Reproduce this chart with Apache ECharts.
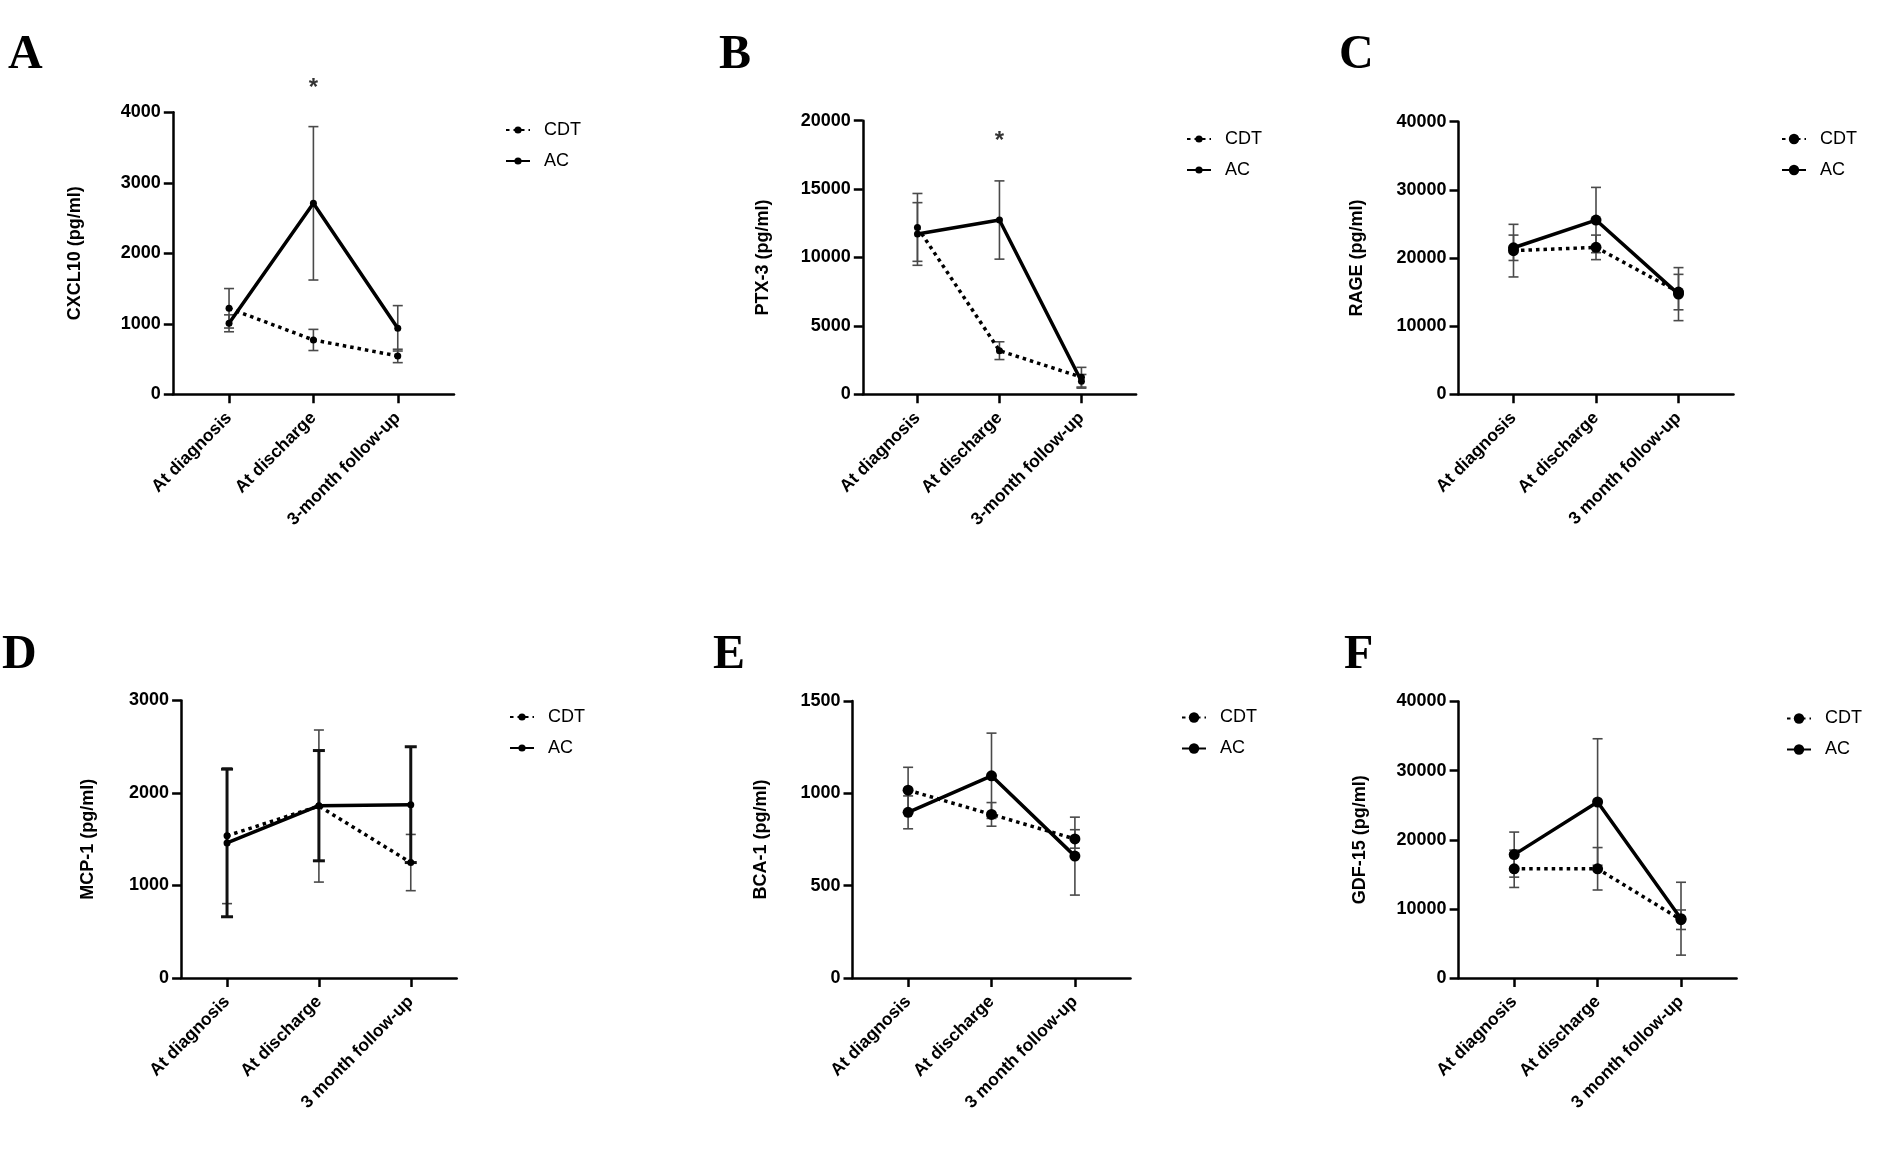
<!DOCTYPE html>
<html>
<head>
<meta charset="utf-8">
<title>Biomarkers CDT vs AC</title>
<script src="https://cdn.jsdelivr.net/npm/echarts@6/dist/echarts.min.js"></script>
<style>
  html, body { margin: 0; padding: 0; background: #fff; }
  #chart { width: 1903px; height: 1156px; }
</style>
</head>
<body>
<div id="chart"></div>
<script>
// ---------------- DATA ----------------
const panelLetters = ['A', 'B', 'C', 'D', 'E', 'F'];
const yTitles = ['CXCL10 (pg/ml)', 'PTX-3 (pg/ml)', 'RAGE (pg/ml)', 'MCP-1 (pg/ml)', 'BCA-1 (pg/ml)', 'GDF-15 (pg/ml)'];
const catsHyphen = ['At diagnosis', 'At discharge', '3-month follow-up'];
const catsSpace = ['At diagnosis', 'At discharge', '3 month follow-up'];
const seriesNames = ['CDT', 'AC'];

// y axis ticks (max, step) per panel
const yMax = [4000, 20000, 40000, 3000, 1500, 40000];
const yStep = [1000, 5000, 10000, 1000, 500, 10000];

// A: CXCL10
const cxcl10CDT = [1220, 771, 544];
const cxcl10CDTsem = [280, 150, 95];
const cxcl10AC = [1007, 2709, 936];
const cxcl10ACsem = [120, 1088, 322];
// B: PTX-3
const ptx3CDT = [12200, 3190, 1250];
const ptx3CDTsem = [2480, 650, 720];
const ptx3AC = [11720, 12740, 950];
const ptx3ACsem = [2290, 2860, 500];
// C: RAGE
const rageCDT = [21080, 21560, 15000];
const rageCDTsem = [3860, 1800, 2600];
const rageAC = [21500, 25570, 14700];
const rageACsem = [1860, 4790, 3890];
// D: MCP-1
const mcp1CDT = [1537, 1859, 1248];
const mcp1CDTsem = [733, 822, 304];
const mcp1AC = [1460, 1863, 1874];
const mcp1ACsem = [798, 596, 626];
// E: BCA-1
const bca1CDT = [1017, 886, 753];
const bca1CDTsem = [124, 64, 50];
const bca1AC = [897, 1095, 660];
const bca1ACsem = [89, 231, 211];
// F: GDF-15
const gdf15CDT = [15800, 15800, 8430];
const gdf15CDTsem = [2700, 3070, 1410];
const gdf15AC = [17850, 25460, 8580];
const gdf15ACsem = [3260, 9150, 5270];

// significance stars: [category index, y value]
const starA = [1, 4345];
const starB = [1, 18500];

// ---------------- LAYOUT / STYLE ----------------
const panels = [
  { cats: catsHyphen, cdt: cxcl10CDT, cdtE: cxcl10CDTsem, ac: cxcl10AC, acE: cxcl10ACsem, star: starA,
    g: { left: 172.8, top: 112.3, width: 281.2, height: 282 }, xr: [-2/3, 8/3], nameGap: 89,
    lg: { left: 505, top: 121 }, big: false, thickAC: false },
  { cats: catsHyphen, cdt: ptx3CDT, cdtE: ptx3CDTsem, ac: ptx3AC, acE: ptx3ACsem, star: starB,
    g: { left: 862.8, top: 120.7, width: 273.3, height: 273.6 }, xr: [-2/3, 8/3], nameGap: 91,
    lg: { left: 1186, top: 130 }, big: false, thickAC: false },
  { cats: catsSpace, cdt: rageCDT, cdtE: rageCDTsem, ac: rageAC, acE: rageACsem, star: null,
    g: { left: 1458.5, top: 121.7, width: 275, height: 272.6 }, xr: [-2/3, 8/3], nameGap: 92,
    lg: { left: 1781, top: 130 }, big: true, thickAC: false },
  { cats: catsSpace, cdt: mcp1CDT, cdtE: mcp1CDTsem, ac: mcp1AC, acE: mcp1ACsem, star: null,
    g: { left: 181.1, top: 700.5, width: 275.6, height: 277.5 }, xr: [-0.5, 2.5], nameGap: 84,
    lg: { left: 509, top: 708 }, big: false, thickAC: true },
  { cats: catsSpace, cdt: bca1CDT, cdtE: bca1CDTsem, ac: bca1AC, acE: bca1ACsem, star: null,
    g: { left: 852.5, top: 701, width: 278, height: 277 }, xr: [-2/3, 8/3], nameGap: 82,
    lg: { left: 1181, top: 708.5 }, big: true, thickAC: false },
  { cats: catsSpace, cdt: gdf15CDT, cdtE: gdf15CDTsem, ac: gdf15AC, acE: gdf15ACsem, star: null,
    g: { left: 1458.6, top: 701.5, width: 278, height: 276.5 }, xr: [-2/3, 8/3], nameGap: 90,
    lg: { left: 1786, top: 709.5 }, big: true, thickAC: false }
];
const letterPos = [[8, 56], [719, 56], [1339, 56], [2, 656], [713, 656], [1344, 656]];

const SANS = '"Liberation Sans", Arial, Helvetica, sans-serif';
const SERIF = '"Liberation Serif", "Times New Roman", serif';

function errRender(color, lw, cap) {
  return function (params, api) {
    const x = api.value(0), y = api.value(1), e = api.value(2);
    const hi = api.coord([x, y + e]);
    const lo = api.coord([x, y - e]);
    const st = { stroke: color, lineWidth: lw, fill: null };
    return {
      type: 'group',
      children: [
        { type: 'line', shape: { x1: hi[0], y1: hi[1], x2: lo[0], y2: lo[1] }, style: st },
        { type: 'line', shape: { x1: hi[0] - cap, y1: hi[1], x2: hi[0] + cap, y2: hi[1] }, style: st },
        { type: 'line', shape: { x1: lo[0] - cap, y1: lo[1], x2: lo[0] + cap, y2: lo[1] }, style: st }
      ]
    };
  };
}

const option = {
  animation: false,
  backgroundColor: '#ffffff',
  grid: [], xAxis: [], yAxis: [], series: [], legend: [], graphic: []
};

panels.forEach((p, i) => {
  option.grid.push(Object.assign({ containLabel: false }, p.g));
  option.xAxis.push({
    type: 'value', gridIndex: i, min: p.xr[0], max: p.xr[1],
    axisLine: { show: true, onZero: false, lineStyle: { color: '#000', width: 2.5 } },
    axisTick: { show: true, customValues: [0, 1, 2], length: 9, lineStyle: { color: '#000', width: 2.5 } },
    axisLabel: {
      customValues: [0, 1, 2], rotate: 45, margin: 21,
      formatter: (v) => p.cats[Math.round(v)],
      fontFamily: SANS, fontWeight: 'bold', fontSize: 17.5, color: '#000'
    },
    splitLine: { show: false }
  });
  option.yAxis.push({
    type: 'value', gridIndex: i, min: 0, max: yMax[i], interval: yStep[i],
    name: yTitles[i], nameLocation: 'middle', nameRotate: 90, nameGap: p.nameGap,
    nameTextStyle: { fontFamily: SANS, fontWeight: 'bold', fontSize: 18, color: '#000' },
    axisLine: { show: true, onZero: false, lineStyle: { color: '#000', width: 2.5 } },
    axisTick: { show: true, length: 9, lineStyle: { color: '#000', width: 2.5 } },
    axisLabel: { margin: 12, formatter: (v) => String(v), fontFamily: SANS, fontWeight: 'bold', fontSize: 18, color: '#000' },
    splitLine: { show: false }
  });

  const sym = p.big ? 11 : 7;
  const cdtData = p.cdt.map((v, k) => [k, v]);
  const acData = p.ac.map((v, k) => [k, v]);
  const cdtErr = p.cdt.map((v, k) => [k, v, p.cdtE[k]]);
  const acErr = p.ac.map((v, k) => [k, v, p.acE[k]]);

  option.series.push({
    type: 'custom', name: 'CDT error', xAxisIndex: i, yAxisIndex: i,
    renderItem: errRender('#4a4a4a', 1.6, 5), data: cdtErr, encode: { x: 0, y: 1 }, z: 2
  });
  option.series.push({
    type: 'custom', name: 'AC error', xAxisIndex: i, yAxisIndex: i,
    renderItem: p.thickAC ? errRender('#111', 3, 6) : errRender('#4a4a4a', 1.6, 5),
    data: acErr, encode: { x: 0, y: 1 }, z: 2
  });
  option.series.push({
    type: 'line', name: 'CDT', xAxisIndex: i, yAxisIndex: i, data: cdtData,
    symbol: 'circle', symbolSize: sym,
    itemStyle: { color: '#000' },
    lineStyle: { color: '#000', width: 3.5, type: [3.5, 4] }, z: 3
  });
  option.series.push({
    type: 'line', name: 'AC', xAxisIndex: i, yAxisIndex: i, data: acData,
    symbol: 'circle', symbolSize: sym,
    itemStyle: { color: '#000' },
    lineStyle: { color: '#000', width: 3.5, type: 'solid' }, z: 4
  });
  if (p.star) {
    option.series.push({
      type: 'scatter', name: 'sig', xAxisIndex: i, yAxisIndex: i, clip: false,
      data: [p.star], symbolSize: 2, itemStyle: { color: 'rgba(0,0,0,0)' },
      label: { show: true, position: 'inside', formatter: '*', fontFamily: SANS, fontWeight: 'bold', fontSize: 24, color: '#000' },
      labelLayout: { hideOverlap: false },
      z: 5
    });
  }

  const ih = p.big ? 13 : 9;
  option.legend.push({
    data: seriesNames, orient: 'vertical', left: p.lg.left, top: p.lg.top,
    itemWidth: 24, itemHeight: ih, itemGap: 13, padding: 0, selectedMode: false,
    textStyle: { fontFamily: SANS, fontSize: 18, color: '#000', padding: [0, 0, 0, 9] }
  });

  option.graphic.push({
    type: 'text', x: letterPos[i][0], y: letterPos[i][1],
    style: { text: panelLetters[i], font: 'bold 48px ' + SERIF, fill: '#000', verticalAlign: 'middle', align: 'left' }
  });
});

const chart = echarts.init(document.getElementById('chart'), null, { renderer: 'canvas', width: 1903, height: 1156 });
chart.setOption(option);
</script>
</body>
</html>
